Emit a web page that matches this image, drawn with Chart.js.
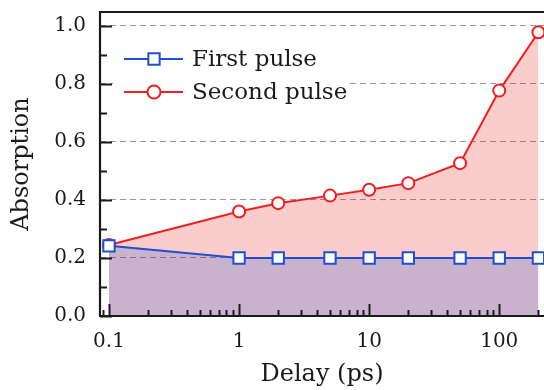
<!DOCTYPE html>
<html>
<head>
<meta charset="utf-8">
<script src="https://cdn.jsdelivr.net/npm/chart.js@4.4.1/dist/chart.umd.min.js"></script>
<style>
  html, body { margin: 0; padding: 0; background: #fff; overflow: hidden; }
  canvas { display: block; }
</style>
</head>
<body>
<canvas id="c" width="544" height="390"></canvas>
<script>
// Pump-probe absorption versus delay between the two pulses
const delays = [0.1, 1, 2, 5, 10, 20, 50, 100, 200];
const firstPulse = [0.242, 0.2, 0.2, 0.2, 0.2, 0.2, 0.2, 0.2, 0.2];
const secondPulse = [0.245, 0.36, 0.389, 0.415, 0.435, 0.458, 0.527, 0.777, 0.978];
const seriesNames = ['First pulse', 'Second pulse'];
const xTickValues = [0.1, 1, 10, 100];
const yTickValues = [0, 0.2, 0.4, 0.6, 0.8, 1.0];
const xRange = [0.0853, 220.8];
const yRange = [0, 1.048];

const SERIF = '"DejaVu Serif", "Liberation Serif", serif';
const INK = '#1a1a1a';

function toPoints(xs, ys) {
  return xs.map((x, i) => ({ x: x, y: ys[i] }));
}

// Inward major/minor ticks and the open plot frame (no right edge)
const framePlugin = {
  id: 'frame',
  afterDatasetsDraw(chart) {
    const { ctx, chartArea: a, scales: { x, y } } = chart;
    ctx.save();
    ctx.strokeStyle = INK;
    ctx.lineWidth = 2;
    ctx.lineCap = 'butt';

    // y ticks every 0.1, longer at labelled values
    for (let k = 0; k <= 10; k++) {
      const v = k / 10;
      const py = Math.round(y.getPixelForValue(v)) + 0.5;
      const len = k % 2 === 0 ? 12 : 7;
      ctx.beginPath();
      ctx.moveTo(a.left, py);
      ctx.lineTo(a.left + len, py);
      ctx.stroke();
    }

    // x ticks: decades long, 2..9 multiples short
    for (let e = -2; e <= 3; e++) {
      for (let m = 1; m <= 9; m++) {
        const v = m * Math.pow(10, e);
        if (v < x.min || v > x.max) continue;
        const px = Math.round(x.getPixelForValue(v)) + 0.5;
        const len = m === 1 ? 12 : 6;
        ctx.beginPath();
        ctx.moveTo(px, a.bottom);
        ctx.lineTo(px, a.bottom - len);
        ctx.stroke();
      }
    }

    ctx.lineWidth = 2.2;
    ctx.beginPath();
    ctx.moveTo(a.right + 4, a.top);
    ctx.lineTo(a.left, a.top);
    ctx.lineTo(a.left, a.bottom);
    ctx.lineTo(a.right + 4, a.bottom);
    ctx.stroke();
    ctx.restore();
  }
};

// Legend drawn inside the plot, upper left, on a white box
const insetLegend = {
  id: 'insetLegend',
  afterDatasetsDraw(chart) {
    const { ctx, chartArea: a } = chart;
    ctx.save();
    ctx.fillStyle = '#fff';
    ctx.fillRect(a.left + 13, a.top + 26, 234, 70);
    chart.data.datasets.forEach((ds, i) => {
      const cy = a.top + 47 + i * 33;
      const x0 = a.left + 24, x1 = a.left + 83, cx = a.left + 54;
      ctx.strokeStyle = ds.borderColor;
      ctx.lineWidth = ds.borderWidth;
      ctx.beginPath();
      ctx.moveTo(x0, cy);
      ctx.lineTo(x1, cy);
      ctx.stroke();
      ctx.fillStyle = ds.pointBackgroundColor;
      ctx.strokeStyle = ds.pointBorderColor;
      ctx.lineWidth = ds.pointBorderWidth;
      Chart.helpers.drawPoint(ctx, {
        pointStyle: ds.pointStyle,
        radius: ds.legendRadius,
        borderWidth: ds.pointBorderWidth,
        rotation: 0
      }, cx, cy);
      ctx.fillStyle = INK;
      ctx.font = '23px ' + SERIF;
      ctx.textAlign = 'left';
      ctx.textBaseline = 'middle';
      ctx.fillText(ds.label, a.left + 92, cy + 1);
    });
    ctx.restore();
  }
};

const blue = '#1f4fcc';
const red = '#f01e1e';

new Chart(document.getElementById('c'), {
  type: 'line',
  data: {
    datasets: [
      {
        label: seriesNames[0],
        data: toPoints(delays, firstPulse),
        borderColor: blue,
        borderWidth: 2,
        backgroundColor: 'rgba(0, 68, 208, 0.2)',
        fill: 'origin',
        pointStyle: 'rect',
        pointRadius: 8,
        legendRadius: 8,
        pointBorderWidth: 2,
        pointBackgroundColor: '#fff',
        pointBorderColor: blue,
        tension: 0
      },
      {
        label: seriesNames[1],
        data: toPoints(delays, secondPulse),
        borderColor: red,
        borderWidth: 2,
        backgroundColor: 'rgba(235, 0, 0, 0.2)',
        fill: 'origin',
        pointStyle: 'circle',
        pointRadius: 6,
        legendRadius: 6.5,
        pointBorderWidth: 2,
        pointBackgroundColor: '#fff',
        pointBorderColor: red,
        tension: 0
      }
    ]
  },
  options: {
    responsive: false,
    animation: false,
    devicePixelRatio: 1,
    layout: { autoPadding: false, padding: { top: 12, right: 0, bottom: 0, left: 0 } },
    plugins: {
      legend: { display: false },
      tooltip: { enabled: false }
    },
    scales: {
      x: {
        type: 'logarithmic',
        bounds: 'data',
        min: xRange[0],
        max: xRange[1],
        border: { display: false },
        grid: { display: false, drawTicks: false },
        afterBuildTicks(scale) {
          scale.ticks = xTickValues.map(v => ({ value: v }));
        },
        afterFit(scale) {
          scale.height = 74;
          scale.paddingLeft = 0;
          scale.paddingRight = 0;
        },
        ticks: {
          autoSkip: false,
          maxRotation: 0,
          padding: 14,
          color: INK,
          font: { family: SERIF, size: 20 },
          callback: v => String(v)
        },
        title: {
          display: true,
          text: 'Delay (ps)',
          color: INK,
          font: { family: SERIF, size: 24 },
          padding: { top: 0, bottom: 1 }
        }
      },
      y: {
        bounds: 'data',
        min: yRange[0],
        max: yRange[1],
        border: { display: false, dash: [6, 4] },
        grid: {
          drawTicks: false,
          color: ctx => (ctx.tick && ctx.tick.value > 0 ? '#9a9a9a' : 'rgba(0,0,0,0)'),
          lineWidth: 1
        },
        afterBuildTicks(scale) {
          scale.ticks = yTickValues.map(v => ({ value: v }));
        },
        afterFit(scale) {
          scale.width = 100;
          scale.paddingTop = 0;
          scale.paddingBottom = 0;
        },
        ticks: {
          padding: 14,
          color: INK,
          font: { family: SERIF, size: 20 },
          callback: v => Number(v).toFixed(1)
        },
        title: {
          display: true,
          text: 'Absorption',
          color: INK,
          font: { family: SERIF, size: 24 },
          padding: { top: 7, bottom: 0 }
        }
      }
    }
  },
  plugins: [insetLegend, framePlugin]
});
</script>
</body>
</html>
